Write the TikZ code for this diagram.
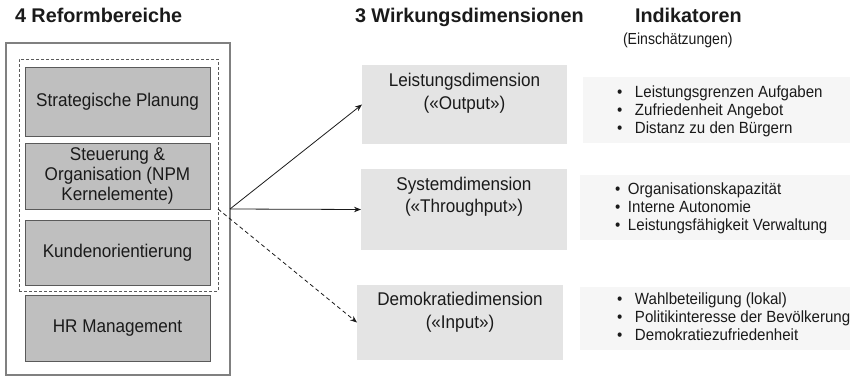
\documentclass[tikz,border=0pt]{standalone}
\usepackage{fontspec}
\setmainfont{Liberation Sans}
\newfontfamily\condfont[FakeStretch=0.93]{Liberation Sans}
\newfontfamily\narrowfont[FakeStretch=0.88]{Liberation Sans}
\usetikzlibrary{arrows.meta,calc}
\definecolor{txt}{HTML}{1A1A1A}
\definecolor{reformfill}{HTML}{BFBFBF}
\definecolor{reformline}{HTML}{5A5A5A}
\definecolor{outerline}{HTML}{808080}
\definecolor{dimfill}{HTML}{E4E4E4}
\definecolor{indfill}{HTML}{F6F6F6}
\begin{document}
\begin{tikzpicture}[x=1pt,y=-1pt,
  every node/.style={text=txt, inner sep=0pt, outer sep=0pt},
  header/.style={font=\fontsize{19.8}{22}\selectfont\bfseries, anchor=base west},
  subheader/.style={font=\narrowfont\fontsize{16}{18}\selectfont, anchor=base west},
  outerbox/.style={draw=outerline, line width=1.1pt, rectangle},
  groupbox/.style={draw=reformline, line width=0.7pt, dash pattern=on 3pt off 2pt, rectangle},
  reform/.style={draw=reformline, line width=0.8pt, fill=reformfill, rectangle, minimum width=185pt,
    align=center, font=\condfont\fontsize{18.4}{20}\selectfont},
  dimbox/.style={fill=dimfill, rectangle},
  dimtext/.style={align=center, font=\condfont\fontsize{18.4}{22.5}\selectfont, anchor=north},
  indbox/.style={fill=indfill, rectangle},
  indtext/.style={font=\condfont\fontsize{16.2}{18}\selectfont, anchor=base west},
  arr/.style={draw=txt, line width=0.8pt, -{Stealth[length=7pt,width=5.5pt]}},
  darr/.style={arr, dash pattern=on 4pt off 3pt}
]
\useasboundingbox (0,0) rectangle (853,377);

% headers
\node[header] (h1) at (15,23) {4 Reformbereiche};
\node[header] (h2) at (355,23) {3 Wirkungsdimensionen};
\node[header] (h3) at (635,23) {Indikatoren};
\node[subheader] (h4) at (623,45) {(Einschätzungen)};

% left column
\node[outerbox, minimum width=224pt, minimum height=332pt] (outer) at (118,209) {};
\node[groupbox, minimum width=199pt, minimum height=232pt] (group) at (118.5,175) {};
\node[reform, minimum height=69pt] (strat) at (117.5,101.5) {Strategische Planung};
\node[reform, minimum height=66pt] (steu) at (117.5,176) {Steuerung \&\\Organisation (NPM\\Kernelemente)};
\node[reform, minimum height=65pt] (kund) at (117.5,252.5) {Kundenorientierung};
\node[reform, minimum height=66pt] (hr) at (117.5,328) {HR Management};

% middle column
\node[dimbox, minimum width=205pt, minimum height=79pt] (leis) at (464.5,104.5) {};
\node[dimtext] (leist) at ([yshift=-8.5pt]leis.north) {Leistungsdimension\\(«Output»)};
\node[dimbox, minimum width=206pt, minimum height=81pt] (sys) at (464,209.5) {};
\node[dimtext] (syst) at ([yshift=-8pt]sys.north) {Systemdimension\\(«Throughput»)};
\node[dimbox, minimum width=206pt, minimum height=75pt] (demo) at (460,322.5) {};
\node[dimtext] (demot) at ([yshift=-7.5pt]demo.north) {Demokratiedimension\\(«Input»)};

% indicator boxes
\node[indbox, minimum width=267pt, minimum height=66pt] (ind1) at (716.5,110) {};
\node[indbox, minimum width=270pt, minimum height=65pt] (ind2) at (715,207.5) {};
\node[indbox, minimum width=270pt, minimum height=63pt] (ind3) at (715,318.5) {};

\node[indtext] (i11) at (617,97.5) {\makebox[18pt][l]{•}Leistungsgrenzen Aufgaben};
\node[indtext] (i12) at (617,115.5) {\makebox[18pt][l]{•}Zufriedenheit Angebot};
\node[indtext] (i13) at (617,133.5) {\makebox[18pt][l]{•}Distanz zu den Bürgern};

\node[indtext] (i21) at (615,194) {\makebox[13pt][l]{•}Organisationskapazität};
\node[indtext] (i22) at (615,212) {\makebox[13pt][l]{•}Interne Autonomie};
\node[indtext] (i23) at (615,230) {\makebox[13pt][l]{•}Leistungsfähigkeit Verwaltung};

\node[indtext] (i31) at (617,304) {\makebox[18pt][l]{•}Wahlbeteiligung (lokal)};
\node[indtext] (i32) at (617,322) {\makebox[18pt][l]{•}Politikinteresse der Bevölkerung};
\node[indtext] (i33) at (617,340) {\makebox[18pt][l]{•}Demokratiezufriedenheit};

% connectors
\coordinate (src) at (outer.east);
\coordinate (dsrc) at (group.east |- steu.south);
\draw[arr] (src) -- (leis.west);
\draw[arr] (src) -- (sys.west);
\draw[darr] (dsrc) -- (demo.west);
\end{tikzpicture}
\end{document}
